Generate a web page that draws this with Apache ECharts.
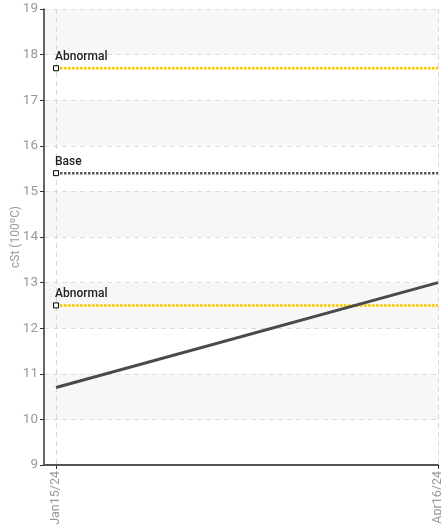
<!DOCTYPE html>
<html><head><meta charset="utf-8">
<script src="https://cdn.jsdelivr.net/npm/echarts@6/dist/echarts.min.js"></script>
<style>html,body{margin:0;padding:0;background:#fff}#c{width:441px;height:526px}</style>
</head><body><div id="c"></div>
<script>
const dates = ['2024-01-15', '2024-04-16'];
const dateLabels = ['Jan15/24', 'Apr16/24'];
const viscosity = [10.7, 13.0];
const refNames = ['Abnormal', 'Base', 'Abnormal'];
const refValues = [17.7, 15.4, 12.5];
const refColors = ['#f2c500', '#555555', '#f2c500'];
const yTicks = [9, 10, 11, 12, 13, 14, 15, 16, 17, 18, 19];
const yTitle = 'cSt (100ºC)';

const DAY = 86400000;
const t0 = new Date(dates[0] + 'T00:00:00Z').getTime();
const xs = dates.map(d => Math.round((new Date(d + 'T00:00:00Z').getTime() - t0) / DAY));
const font = "Roboto, sans-serif";

const refSeries = refValues.map((v, i) => ({
  type: 'line',
  name: refNames[i],
  data: [
    { value: [xs[0], v], symbol: 'rect', symbolSize: 5,
      label: { show: true, formatter: refNames[i] } },
    { value: [xs[1], v], symbol: 'none' }
  ],
  lineStyle: { color: refColors[i], width: 2.5, type: [2.5, 1.5] },
  itemStyle: { color: '#fff', borderColor: '#000', borderWidth: 1 },
  label: { position: 'top', align: 'left', offset: [-1, 3], color: '#222', fontSize: 12, fontWeight: 500, fontFamily: font },
  silent: true, animation: false, z: 3
}));

const chart = echarts.init(document.getElementById('c'), null, { renderer: 'canvas' });
chart.setOption({
  animation: false,
  grid: { left: 44, right: 3, top: 9, bottom: 61, containLabel: false, outerBoundsMode: 'none' },
  xAxis: {
    type: 'value',
    min: xs[0] - 2.9,
    max: xs[1],
    axisLine: { show: true, onZero: false, lineStyle: { color: '#555', width: 2 } },
    axisTick: { show: true, customValues: xs, length: 4, lineStyle: { color: '#333' } },
    axisLabel: { customValues: xs, rotate: 90, color: '#999', fontSize: 12.5, fontFamily: font,
      formatter: v => dateLabels[xs.indexOf(v)] || '', margin: 6 },
    splitLine: { show: true, lineStyle: { color: '#d8d8d8', type: [5, 4] } }
  },
  yAxis: {
    type: 'value', min: yTicks[0], max: yTicks[yTicks.length - 1], interval: 1,
    name: yTitle, nameLocation: 'middle', nameGap: 22, nameMoveOverlap: false,
    nameTextStyle: { color: '#999', fontSize: 12, fontFamily: font },
    axisLine: { show: true, onZero: false, lineStyle: { color: '#333', width: 1.5 } },
    axisTick: { show: true, length: 4, lineStyle: { color: '#333' } },
    axisLabel: { color: '#999', fontSize: 13.5, fontFamily: font, margin: 6 },
    splitLine: { show: true, lineStyle: { color: '#dddddd', type: [5, 4] } },
    splitArea: { show: true, areaStyle: { color: ['rgba(255,255,255,0)', '#f7f7f7'] } }
  },
  series: [
    ...refSeries,
    {
      type: 'line', name: 'cSt',
      data: xs.map((x, i) => [x, viscosity[i]]),
      symbol: 'none',
      lineStyle: { color: '#4a4a4a', width: 3 },
      z: 4, silent: true
    }
  ]
});
</script></body></html>
